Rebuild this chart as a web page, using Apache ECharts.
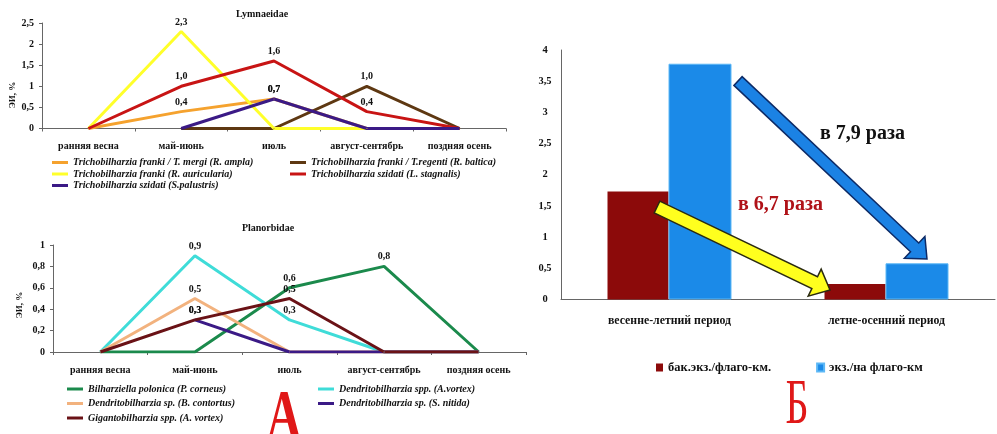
<!DOCTYPE html>
<html>
<head>
<meta charset="utf-8">
<script src="https://cdn.jsdelivr.net/npm/echarts@6/dist/echarts.min.js"></script>
<style>
  html, body { margin: 0; padding: 0; background: #fff; }
  #chart { width: 997px; height: 434px; }
</style>
</head>
<body>
<div id="chart"></div>
<script>
// ---- data ----
const months = ['ранняя весна', 'май-июнь', 'июль', 'август-сентябрь', 'поздняя осень'];

// Lymnaeidae, ЭИ %
const tMergiAmpla      = [0, 0.4, 0.7, 0, 0];
const tRegentiBaltica  = [null, 0, 0, 1.0, 0];
const tFrankiAuric     = [0, 2.3, 0, 0, 0];
const tSzidatiStagn    = [0, 1.0, 1.6, 0.4, 0];
const tSzidatiPalustr  = [null, 0, 0.7, 0, 0];

// Planorbidae, ЭИ %
const bPolonicaCorneus = [0, 0, 0.6, 0.8, 0];
const dSppVortex       = [0, 0.9, 0.3, 0, 0];
const dSpContortus     = [0, 0.5, 0, 0, 0];
const dSpNitida        = [null, 0.3, 0, 0, 0];
const gSppVortex       = [0, 0.3, 0.5, 0, 0];

// density per flag-km by period
const periods   = ['весенне-летний период', 'летне-осенний период'];
const bakPerKm  = [1.73, 0.25];
const ekzPerKm  = [3.78, 0.58];

// ---- styling ----
const SERIF = '"Liberation Serif", "Times New Roman", serif';
const AXIS_COLOR = '#666';
const comma = v => String(v).replace('.', ',');
const valLabel = p => (p.value > 0 ? p.value.toFixed(1).replace('.', ',') : '');

const chart = echarts.init(document.getElementById('chart'), null, { renderer: 'canvas' });

function lineSeries(name, data, color, gi) {
  return {
    type: 'line', name, data: data.map(v => (v === null ? '-' : v)),
    xAxisIndex: gi, yAxisIndex: gi,
    symbol: 'circle', symbolSize: 1, showSymbol: true,
    lineStyle: { width: 3, color }, itemStyle: { color },
    label: {
      show: true, position: 'top', distance: 4, formatter: valLabel,
      fontFamily: SERIF, fontWeight: 'bold', fontSize: 10, color: '#111'
    },
    emphasis: { disabled: true }, animation: false
  };
}

function catAxis(gi, data, margin) {
  return {
    gridIndex: gi, type: 'category', data, boundaryGap: true,
    axisLine: { lineStyle: { color: AXIS_COLOR, width: 1 } },
    axisTick: { show: true, length: 3, lineStyle: { color: AXIS_COLOR } },
    axisLabel: { interval: 0, margin, fontFamily: SERIF, fontWeight: 'bold', fontSize: 10, color: '#111' },
    splitLine: { show: false }
  };
}

function valAxis(gi, max, interval, extra) {
  return Object.assign({
    gridIndex: gi, type: 'value', min: 0, max, interval,
    axisLine: { show: true, lineStyle: { color: AXIS_COLOR, width: 1 } },
    axisTick: { show: true, length: 3, lineStyle: { color: AXIS_COLOR } },
    axisLabel: { formatter: comma, margin: 8, fontFamily: SERIF, fontWeight: 'bold', fontSize: 10, color: '#111' },
    splitLine: { show: false }
  }, extra || {});
}

const legendText = { fontFamily: SERIF, fontStyle: 'italic', fontWeight: 'bold', fontSize: 10, lineHeight: 11, color: '#111' };

const L = {
  mergi: 'Trichobilharzia franki / T. mergi (R. ampla)',
  regenti: 'Trichobilharzia franki / T.regenti (R. baltica)',
  auric: 'Trichobilharzia franki (R. auricularia)',
  stagn: 'Trichobilharzia szidati (L. stagnalis)',
  palustr: 'Trichobilharzia szidati (S.palustris)',
  polonica: 'Bilharziella polonica (P. corneus)',
  dVortex: 'Dendritobilharzia spp. (A.vortex)',
  contortus: 'Dendritobilharzia sp. (B. contortus)',
  nitida: 'Dendritobilharzia sp. (S. nitida)',
  gVortex: 'Gigantobilharzia spp. (A. vortex)'
};

// arrow polygon from tail (x1,y1) to tip (x2,y2)
function arrow(x1, y1, x2, y2, w, hw, hl, fill, stroke) {
  const dx = x2 - x1, dy = y2 - y1, len = Math.hypot(dx, dy);
  const ux = dx / len, uy = dy / len, px = -uy, py = ux;
  const bx = x2 - ux * hl, by = y2 - uy * hl;
  const pts = [
    [x1 + px * w / 2, y1 + py * w / 2],
    [bx + px * w / 2, by + py * w / 2],
    [bx + px * hw / 2, by + py * hw / 2],
    [x2, y2],
    [bx - px * hw / 2, by - py * hw / 2],
    [bx - px * w / 2, by - py * w / 2],
    [x1 - px * w / 2, y1 - py * w / 2]
  ];
  return { type: 'polygon', z: 100, shape: { points: pts }, style: { fill, stroke, lineWidth: 1.5 } };
}

const option = {
  backgroundColor: '#fff',
  animation: false,
  title: [
    { text: 'Lymnaeidae', left: 262, top: 9, textAlign: 'center', padding: 0,
      textStyle: { fontFamily: SERIF, fontWeight: 'bold', fontSize: 10, color: '#111' } },
    { text: 'Planorbidae', left: 268, top: 223, textAlign: 'center', padding: 0,
      textStyle: { fontFamily: SERIF, fontWeight: 'bold', fontSize: 10, color: '#111' } }
  ],
  grid: [
    { left: 42, top: 23, width: 464, height: 105.5 },
    { left: 53, top: 245, width: 473, height: 107 },
    { left: 561, top: 50, width: 434, height: 249.5 }
  ],
  xAxis: [
    catAxis(0, months, 13),
    catAxis(1, months, 13),
    Object.assign(catAxis(2, periods, 15), {
      axisTick: { show: false },
      axisLabel: { interval: 0, margin: 15, fontFamily: SERIF, fontWeight: 'bold', fontSize: 11.8, color: '#111' }
    })
  ],
  yAxis: [
    valAxis(0, 2.5, 0.5),
    valAxis(1, 1, 0.2),
    valAxis(2, 4, 0.5, {
      axisTick: { show: false },
      axisLabel: { formatter: comma, margin: 16, align: 'center', fontFamily: SERIF, fontWeight: 'bold', fontSize: 10.5, color: '#111' }
    })
  ],
  legend: [
    { orient: 'vertical', left: 52, top: 157, padding: 0, icon: 'rect', itemWidth: 16, itemHeight: 3, itemGap: 0.5,
      data: [L.mergi, L.auric, L.palustr], textStyle: legendText, selectedMode: false },
    { orient: 'vertical', left: 290, top: 157, padding: 0, icon: 'rect', itemWidth: 16, itemHeight: 3, itemGap: 0.5,
      data: [L.regenti, L.stagn], textStyle: legendText, selectedMode: false },
    { orient: 'vertical', left: 67, top: 383.5, padding: 0, icon: 'rect', itemWidth: 16, itemHeight: 3, itemGap: 3.5,
      data: [L.polonica, L.contortus, L.gVortex], textStyle: legendText, selectedMode: false },
    { orient: 'vertical', left: 318, top: 383.5, padding: 0, icon: 'rect', itemWidth: 16, itemHeight: 3, itemGap: 3.5,
      data: [L.dVortex, L.nitida], textStyle: legendText, selectedMode: false },
    { orient: 'horizontal', left: 656, top: 361, padding: 0, icon: 'rect', itemWidth: 7, itemHeight: 8, itemGap: 45,
      data: ['бак.экз./флаго-км.', 'экз./на флаго-км'], selectedMode: false,
      textStyle: { fontFamily: SERIF, fontWeight: 'bold', fontSize: 12.5, color: '#111' } }
  ],
  series: [
    lineSeries(L.mergi, tMergiAmpla, '#f5a22e', 0),
    lineSeries(L.regenti, tRegentiBaltica, '#5e3812', 0),
    lineSeries(L.auric, tFrankiAuric, '#ffff2a', 0),
    lineSeries(L.stagn, tSzidatiStagn, '#c81414', 0),
    lineSeries(L.palustr, tSzidatiPalustr, '#3b1a86', 0),

    lineSeries(L.polonica, bPolonicaCorneus, '#1b8a4c', 1),
    lineSeries(L.dVortex, dSppVortex, '#3fdcd8', 1),
    lineSeries(L.contortus, dSpContortus, '#f2b27e', 1),
    lineSeries(L.nitida, dSpNitida, '#3b1a86', 1),
    lineSeries(L.gVortex, gSppVortex, '#6a1216', 1),

    { type: 'bar', name: 'бак.экз./флаго-км.', data: bakPerKm, xAxisIndex: 2, yAxisIndex: 2,
      barWidth: 61, barGap: '0%', itemStyle: { color: '#8c0a0a' }, emphasis: { disabled: true } },
    { type: 'bar', name: 'экз./на флаго-км', data: ekzPerKm, xAxisIndex: 2, yAxisIndex: 2,
      barWidth: 63, barGap: '0%', itemStyle: { color: '#1b8ae8', borderColor: '#5cb8f6', borderWidth: 1 },
      emphasis: { disabled: true } }
  ],
  graphic: [
    // axis names
    { type: 'text', x: 13, y: 95, rotation: Math.PI / 2,
      style: { text: 'ЭИ, %', align: 'center', verticalAlign: 'middle', fill: '#111',
        font: 'bold 9px ' + SERIF } },
    { type: 'text', x: 20, y: 305, rotation: Math.PI / 2,
      style: { text: 'ЭИ, %', align: 'center', verticalAlign: 'middle', fill: '#111',
        font: 'bold 9px ' + SERIF } },
    // panel letters
    { type: 'text', x: 284, y: 420, scaleY: 1.45,
      style: { text: 'А', align: 'center', verticalAlign: 'middle', fill: '#e01818',
        font: 'bold 48px ' + SERIF } },
    { type: 'text', x: 797, y: 406, scaleY: 1.6,
      style: { text: 'Б', align: 'center', verticalAlign: 'middle', fill: '#e01818',
        font: '40px ' + SERIF } },
    // ratio arrows and captions
    arrow(657, 207, 830, 290, 13, 30, 17, '#ffff1e', '#2a2a10'),
    arrow(738, 81, 927, 259, 12, 30, 17, '#1b82e4', '#0c2a66'),
    { type: 'text', x: 820, y: 134, z: 100,
      style: { text: 'в 7,9 раза', align: 'left', verticalAlign: 'middle', fill: '#111',
        font: 'bold 20px ' + SERIF } },
    { type: 'text', x: 738, y: 205, z: 100,
      style: { text: 'в 6,7 раза', align: 'left', verticalAlign: 'middle', fill: '#b01218',
        font: 'bold 20px ' + SERIF } }
  ]
};

chart.setOption(option);
</script>
</body>
</html>
